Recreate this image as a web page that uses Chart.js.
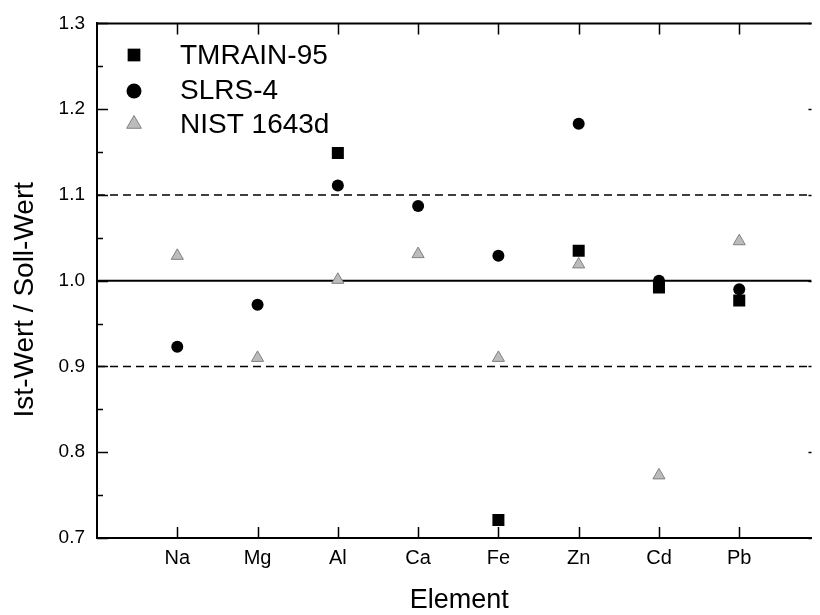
<!DOCTYPE html>
<html>
<head>
<meta charset="utf-8">
<script src="https://cdn.jsdelivr.net/npm/chart.js@4/dist/chart.umd.min.js"></script>
<style>
  html, body { margin: 0; padding: 0; background: #fff; overflow: hidden; }
  #wrap { width: 820px; height: 615px; }
</style>
</head>
<body>
<div id="wrap"><canvas id="c" width="820" height="615"></canvas></div>
<script>
// ---- data ----
const categories = ['Na', 'Mg', 'Al', 'Ca', 'Fe', 'Zn', 'Cd', 'Pb'];
const tmrain95 = [null, null, 1.149, null, 0.721, 1.035, 0.992, 0.977];
const slrs4    = [0.923, 0.972, 1.111, 1.087, 1.029, 1.183, 1.000, 0.990];
const nist1643d = [1.029, 0.910, 1.001, 1.031, 0.910, 1.019, 0.773, 1.046];
const seriesNames = ['TMRAIN-95', 'SLRS-4', 'NIST 1643d'];
const yMajorTicks = [0.7, 0.8, 0.9, 1.0, 1.1, 1.2, 1.3];
const yMinorTicks = [0.75, 0.85, 0.95, 1.05, 1.15, 1.25];
const refSolid = 1.0;
const refDashed = [0.9, 1.1];
const xRange = [0, 8.9];
const xTitle = 'Element';
const yTitle = 'Ist-Wert / Soll-Wert';

const FONT = "'Liberation Sans', Arial, Helvetica, sans-serif";

function toPoints(arr) {
  const pts = [];
  arr.forEach((v, i) => { if (v !== null) pts.push({ x: i + 1, y: v }); });
  return pts;
}

const refLines = [
  { y: refSolid, dash: [], width: 2 },
  ...refDashed.map(v => ({ y: v, dash: [8, 5], width: 1.5 }))
];

const datasets = [
  {
    label: seriesNames[0], data: toPoints(tmrain95),
    pointStyle: 'rect', pointRadius: 8.5, backgroundColor: '#000', borderColor: '#000', borderWidth: 0, order: 1
  },
  {
    label: seriesNames[1], data: toPoints(slrs4),
    pointStyle: 'circle', pointRadius: 6, backgroundColor: '#000', borderColor: '#000', borderWidth: 0, order: 2
  },
  {
    label: seriesNames[2], data: toPoints(nist1643d),
    pointStyle: 'triangle', pointRadius: 7, backgroundColor: '#bcbcbc', borderColor: '#808080', borderWidth: 1, order: 3
  },
  ...refLines.map(r => ({
    type: 'line', label: '_ref', data: [{ x: xRange[0], y: r.y }, { x: xRange[1], y: r.y }],
    borderColor: '#000', borderWidth: r.width, borderDash: r.dash, pointRadius: 0, fill: false, order: 10
  }))
];

// inward ticks, top frame, right-axis tick stubs, in-plot legend, axis titles
const framePlugin = {
  id: 'frame',
  afterDatasetsDraw(chart) {
    const { ctx, chartArea: a, scales: { x, y } } = chart;
    ctx.save();
    ctx.strokeStyle = '#000';
    ctx.lineWidth = 2;
    ctx.beginPath();
    ctx.moveTo(a.left, a.top); ctx.lineTo(a.right, a.top);
    ctx.stroke();
    ctx.lineWidth = 1.5;
    ctx.beginPath();
    categories.forEach((c, i) => {
      const px = Math.round(x.getPixelForValue(i + 1)) + 0.5;
      ctx.moveTo(px, a.bottom); ctx.lineTo(px, a.bottom - 11);
      ctx.moveTo(px, a.top); ctx.lineTo(px, a.top + 11);
    });
    yMajorTicks.forEach(v => {
      const py = Math.round(y.getPixelForValue(v)) + 0.5;
      ctx.moveTo(a.left, py); ctx.lineTo(a.left + 11, py);
      ctx.moveTo(a.right, py); ctx.lineTo(a.right - 3, py);
    });
    yMinorTicks.forEach(v => {
      const py = Math.round(y.getPixelForValue(v)) + 0.5;
      ctx.moveTo(a.left, py); ctx.lineTo(a.left + 6, py);
    });
    ctx.stroke();

    // legend inside plot
    const legendRows = [55, 91, 124];
    const textRows = [56, 91, 125];
    const legendRadius = [9, 7.5, 8.5];
    ctx.font = '28px ' + FONT;
    ctx.textBaseline = 'middle';
    ctx.textAlign = 'left';
    chart.data.datasets.slice(0, 3).forEach((ds, i) => {
      ctx.fillStyle = ds.backgroundColor; ctx.strokeStyle = ds.borderColor; ctx.lineWidth = ds.borderWidth;
      Chart.helpers.drawPoint(ctx, {
        pointStyle: ds.pointStyle, radius: legendRadius[i], borderWidth: ds.borderWidth, rotation: 0
      }, 134, legendRows[i]);
      ctx.fillStyle = '#000';
      ctx.fillText(ds.label, 180, textRows[i]);
    });
    ctx.restore();
  },
  afterDraw(chart) {
    const { ctx, chartArea: a } = chart;
    ctx.save();
    ctx.fillStyle = '#000';
    ctx.textAlign = 'center';
    ctx.textBaseline = 'middle';
    ctx.font = '27px ' + FONT;
    ctx.fillText(xTitle, (a.left + a.right) / 2 + 5, 601);
    ctx.font = '28px ' + FONT;
    ctx.translate(25, (a.top + a.bottom) / 2 + 19);
    ctx.rotate(-Math.PI / 2);
    ctx.fillText(yTitle, 0, 0);
    ctx.restore();
  }
};

new Chart(document.getElementById('c'), {
  type: 'scatter',
  data: { datasets },
  options: {
    responsive: false,
    animation: false,
    events: [],
    layout: { padding: { top: 20, right: 0, left: 0, bottom: 0 } },
    plugins: { legend: { display: false }, tooltip: { enabled: false } },
    scales: {
      x: {
        type: 'linear', min: xRange[0], max: xRange[1],
        afterBuildTicks: s => { s.ticks = categories.map((c, i) => ({ value: i + 1 })); },
        afterFit: s => { s.height = 77; },
        ticks: {
          callback: v => categories[v - 1] || '',
          color: '#000', font: { family: FONT, size: 20 }, padding: 8, maxRotation: 0, autoSkip: false
        },
        grid: { display: false, drawTicks: false },
        border: { display: true, color: '#000', width: 2 },
        title: { display: false }
      },
      y: {
        min: 0.7, max: 1.3,
        afterBuildTicks: s => { s.ticks = yMajorTicks.map(v => ({ value: v })); },
        afterFit: s => { s.width = 97; },
        ticks: {
          callback: v => v.toFixed(1),
          color: '#000', font: { family: FONT, size: 19 }, padding: 12
        },
        grid: { display: false, drawTicks: false },
        border: { display: true, color: '#000', width: 2 },
        title: { display: false }
      }
    }
  },
  plugins: [framePlugin]
});
</script>
</body>
</html>
